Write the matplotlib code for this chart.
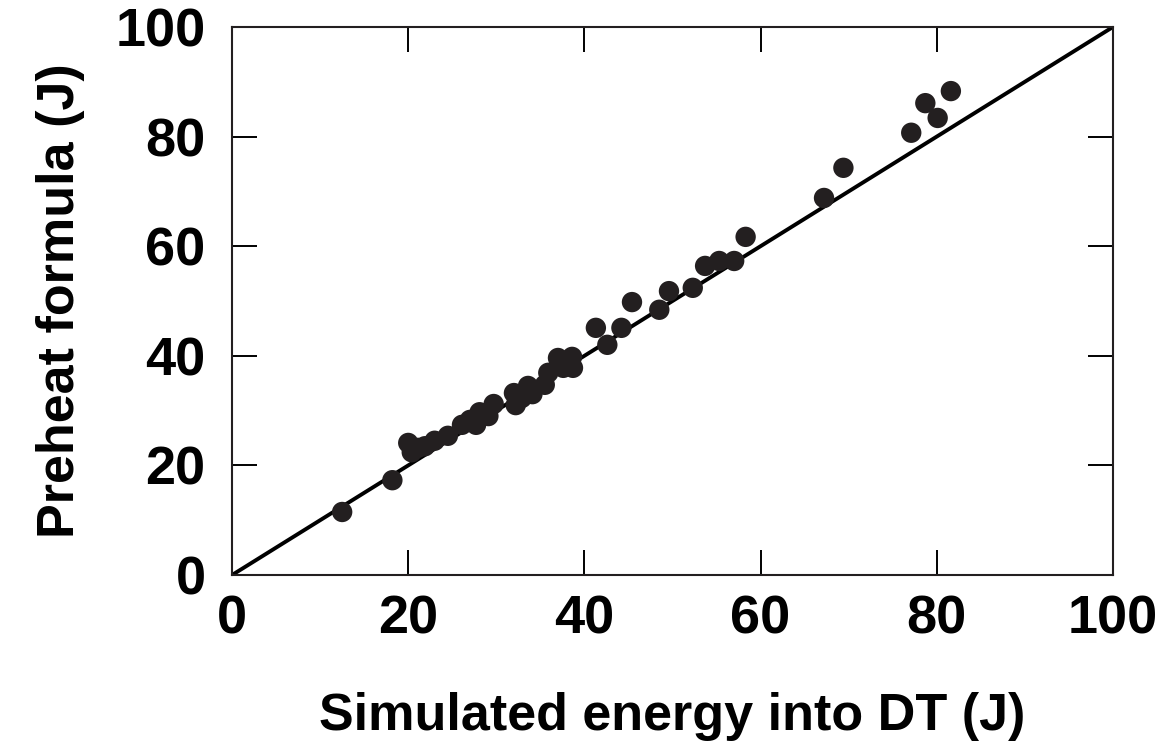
import matplotlib.pyplot as plt

# Energy values (J)
sim_energy = [12.5, 18.2, 20.0, 20.4, 21.1, 21.9, 23.0, 24.5, 26.1, 27.0,
              27.7, 28.1, 29.1, 29.7, 32.0, 32.2, 32.9, 33.6, 34.1, 35.5,
              35.9, 37.0, 37.6, 38.6, 38.7, 41.3, 42.6, 44.2, 45.4, 48.5,
              49.6, 52.3, 53.7, 55.3, 57.0, 58.3, 67.2, 69.4, 77.1, 78.7,
              80.1, 81.6]
preheat = [11.5, 17.3, 24.1, 22.4, 23.2, 23.5, 24.5, 25.4, 27.4, 28.3,
           27.4, 29.7, 29.0, 31.2, 33.2, 31.0, 32.3, 34.5, 33.0, 34.7,
           36.9, 39.6, 37.8, 39.8, 37.8, 45.1, 42.0, 45.1, 49.8, 48.4,
           51.8, 52.4, 56.4, 57.3, 57.3, 61.7, 68.8, 74.3, 80.7, 86.1,
           83.4, 88.3]
identity = [0, 100]
ticks = [0, 20, 40, 60, 80, 100]

plt.rcParams['font.family'] = ['Liberation Sans', 'DejaVu Sans']
plt.rcParams['font.weight'] = 'bold'

fig = plt.figure(figsize=(11.62, 7.43), dpi=100)
ax = fig.add_axes([0.1997, 0.2261, 0.7581, 0.7376])

ax.plot(identity, identity, color='black', lw=2.8, zorder=2)
ax.scatter(sim_energy, preheat, s=215, color='#231f20', edgecolors='none', zorder=3)

ax.set_xlim(0, 100)
ax.set_ylim(0, 100)
ax.set_xticks(ticks)
ax.set_yticks(ticks)
ax.tick_params(direction='in', length=18, width=1.4, labelsize=39,
               top=True, right=True)
ax.tick_params(axis='x', pad=14)
ax.tick_params(axis='y', pad=19)
for s in ax.spines.values():
    s.set_linewidth(1.5)
    s.set_color('#231f20')

ax.set_xlabel('Simulated energy into DT (J)', fontsize=37.5, fontweight='bold', labelpad=34)
ax.set_ylabel('Preheat formula (J)', fontsize=37.5, fontweight='bold', labelpad=22)

plt.savefig('out.png', dpi=100)
